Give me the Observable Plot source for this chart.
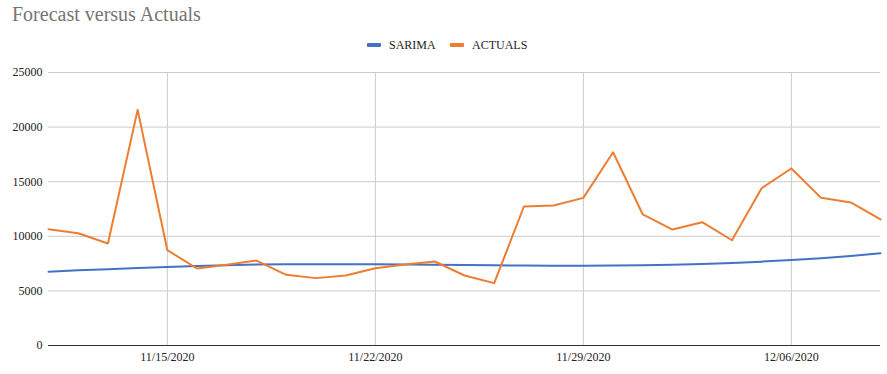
<!DOCTYPE html>
<html>
<head>
<meta charset="utf-8">
<script src="https://cdn.jsdelivr.net/npm/d3@7"></script>
<script src="https://cdn.jsdelivr.net/npm/@observablehq/plot@0.6"></script>
<style>
  html, body { margin: 0; padding: 0; background: #fff; overflow: hidden; }
  #wrap { width: 887px; height: 374px; position: relative; font-family: "Liberation Serif", serif; }
  #title { position: absolute; left: 12px; top: 3px; font-size: 20px; color: #757575; }
  #legend { position: absolute; left: 0; top: 37px; width: 887px; height: 16px; font-size: 12px; color: #222; }
  .item { position: absolute; top: 0; display: flex; align-items: center; height: 16px; }
  .sw { width: 14px; height: 4px; border-radius: 1px; margin-right: 8px; }
  #chart { position: absolute; left: 0; top: 60px; }
  #chart svg, #chart svg text { font-family: "Liberation Serif", serif !important; }
</style>
</head>
<body>
<div id="wrap">
  <div id="title">Forecast versus Actuals</div>
  <div id="legend"></div>
  <div id="chart"></div>
</div>
<script>
const dates = ["2020-11-11","2020-11-12","2020-11-13","2020-11-14","2020-11-15","2020-11-16","2020-11-17",
  "2020-11-18","2020-11-19","2020-11-20","2020-11-21","2020-11-22","2020-11-23","2020-11-24","2020-11-25",
  "2020-11-26","2020-11-27","2020-11-28","2020-11-29","2020-11-30","2020-12-01","2020-12-02","2020-12-03",
  "2020-12-04","2020-12-05","2020-12-06","2020-12-07","2020-12-08","2020-12-09"];
const sarima = [6750,6880,6990,7090,7200,7290,7360,7410,7440,7450,7450,7440,7420,7400,7370,7340,7320,7310,
  7310,7320,7350,7400,7470,7560,7680,7830,8000,8200,8450];
const actuals = [10650,10280,9340,21580,8730,7050,7400,7780,6470,6170,6410,7080,7420,7690,6410,5710,12730,
  12820,13520,17700,12000,10620,11290,9640,14400,16210,13520,13100,11540];
const seriesNames = ["SARIMA","ACTUALS"];
const seriesColors = ["#4472C4","#ED7D31"];
const yTicks = [0,5000,10000,15000,20000,25000];
const xTickDates = ["2020-11-15","2020-11-22","2020-11-29","2020-12-06"];

const parse = d3.utcParse("%Y-%m-%d");
const rows = [];
dates.forEach((d, i) => {
  rows.push({date: parse(d), value: sarima[i], series: seriesNames[0]});
  rows.push({date: parse(d), value: actuals[i], series: seriesNames[1]});
});
const xt = xTickDates.map(parse);

const legend = document.getElementById("legend");
const legendX = [367, 450];
seriesNames.forEach((s, i) => {
  const it = document.createElement("div");
  it.className = "item";
  it.style.left = legendX[i] + "px";
  it.innerHTML = `<span class="sw" style="background:${seriesColors[i]}"></span><span>${s}</span>`;
  legend.appendChild(it);
});

const chart = Plot.plot({
  width: 887,
  height: 314,
  marginTop: 12,
  marginBottom: 29,
  marginLeft: 48,
  marginRight: 7,
  style: {fontFamily: "'Liberation Serif', serif", fontSize: "12px", color: "#222", background: "#fff"},
  x: {type: "utc", domain: [parse(dates[0]), parse(dates[dates.length - 1])]},
  y: {domain: [0, 25000]},
  color: {domain: seriesNames, range: seriesColors},
  marks: [
    Plot.gridY(yTicks, {stroke: "#cccccc", strokeOpacity: 1}),
    Plot.gridX(xt, {stroke: "#cccccc", strokeOpacity: 1}),
    Plot.axisY(yTicks, {tickSize: 0, tickPadding: 6, tickFormat: d => String(d), label: null, fontSize: 12}),
    Plot.axisX(xt, {tickSize: 0, tickPadding: 7, tickFormat: d3.utcFormat("%m/%d/%Y"), label: null, fontSize: 12}),
    Plot.ruleY([0], {stroke: "#333"}),
    Plot.line(rows, {x: "date", y: "value", z: "series", stroke: "series", strokeWidth: 2})
  ]
});
document.getElementById("chart").appendChild(chart);
</script>
</body>
</html>
